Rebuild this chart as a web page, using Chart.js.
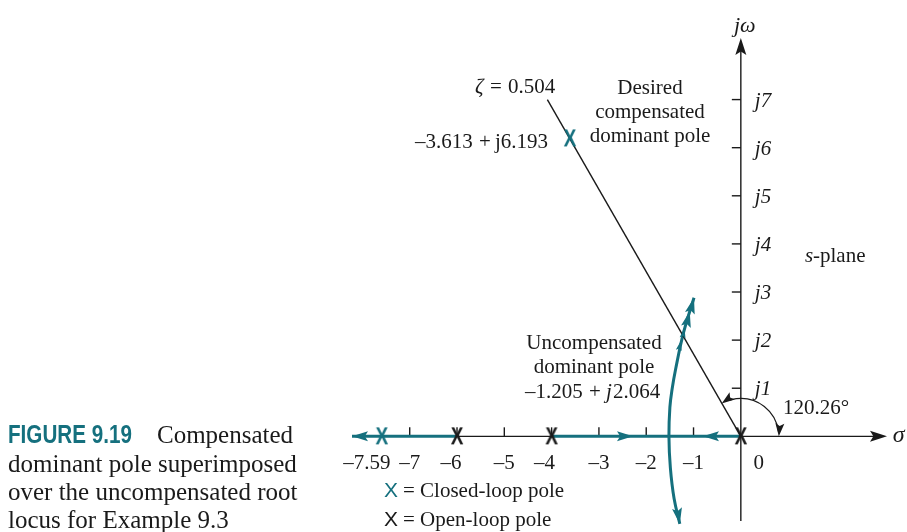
<!DOCTYPE html>
<html>
<head>
<meta charset="utf-8">
<script src="https://cdn.jsdelivr.net/npm/chart.js@4.4.1/dist/chart.umd.min.js"></script>
<style>
  html, body { margin: 0; padding: 0; background: #fff; }
</style>
</head>
<body>
<canvas id="locus" width="907" height="532"></canvas>
<script>
var TEAL = '#15707e';
var INK = '#1a1a1a';
var SERIF = '"Liberation Serif", "Times New Roman", serif';
var SANS = '"Liberation Sans", Arial, sans-serif';

// root locus on the real axis, [from, to]
var realSegFrom = [-8.22, -4];
var realSegTo = [-6, 0];
// complex branch leaving the breakaway point
var branchRe = [-1.29, -1.41, -1.49, -1.52, -1.50, -1.45, -1.38, -1.21, -0.99];
var branchIm = [-1.82, -1.30, -0.65, 0, 0.60, 1.00, 1.39, 2.16, 2.88];
// zeta = 0.504 line
var zetaRe = [0, -4.09];
var zetaIm = [0, 7.0];
// poles
var openLoopRe = [0, -4, -6];
var closedLoopRe = [-7.59, -3.613];
var closedLoopIm = [0, 6.193];
// arrows on the real-axis locus: tip and direction
var axisArrowAt = [-8.22, -2.28, -0.80];
var axisArrowDir = [-1, 1, -1];
// arrows on the branch: tip and a point behind it
var branchArrowTip = [[-0.99, 2.88], [-1.08, 2.60], [-1.19, 2.24], [-1.27, 1.98], [-1.29, -1.82]];
var branchArrowTail = [[-1.05, 2.66], [-1.13, 2.40], [-1.22, 2.10], [-1.30, 1.84], [-1.33, -1.60]];
var arrowScale = [1, 1, 0.6, 0.6, 1];
// ticks
var xTicks = [-7, -6, -5, -4, -3, -2, -1];
var xLabelVals = [-7.59, -7, -6, -5, -4, -3, -2, -1, 0];
var xLabelText = ['–7.59', '–7', '–6', '–5', '–4', '–3', '–2', '–1', '0'];
var yTicks = [1, 2, 3, 4, 5, 6, 7];
var angleDeg = 120.26;

function xGlyph(color) {
  var c = document.createElement('canvas');
  c.width = 20; c.height = 22;
  var g = c.getContext('2d');
  g.fillStyle = color;
  g.font = 'bold 22px ' + SANS;
  g.textAlign = 'center';
  g.textBaseline = 'middle';
  g.translate(10, 12);
  g.scale(0.86, 1.1);
  g.fillText('X', 0, 0);
  return c;
}

function line(ctx, x1, y1, x2, y2) {
  ctx.beginPath();
  ctx.moveTo(x1, y1);
  ctx.lineTo(x2, y2);
  ctx.stroke();
}

function arrowHead(ctx, x, y, ang, len, wid, color) {
  ctx.save();
  ctx.translate(x, y);
  ctx.rotate(ang);
  ctx.fillStyle = color;
  ctx.beginPath();
  ctx.moveTo(0, 0);
  ctx.lineTo(-len, -wid / 2);
  ctx.lineTo(-len * 0.8, 0);
  ctx.lineTo(-len, wid / 2);
  ctx.closePath();
  ctx.fill();
  ctx.restore();
}

function text(ctx, s, x, y, font, align, color) {
  ctx.font = font;
  ctx.textAlign = align || 'left';
  ctx.textBaseline = 'alphabetic';
  ctx.fillStyle = color || INK;
  ctx.fillText(s, x, y);
}

function pts(re, im) {
  return re.map(function (v, i) { return { x: v, y: im[i] }; });
}

var sPlanePlugin = {
  id: 'sPlane',
  beforeDatasetsDraw: function (chart) {
    var ctx = chart.ctx, sx = chart.scales.x, sy = chart.scales.y;
    var ox = sx.getPixelForValue(0), oy = sy.getPixelForValue(0);
    ctx.save();
    ctx.strokeStyle = INK;
    ctx.lineWidth = 1.4;
    line(ctx, sx.left, oy, sx.right - 10, oy);
    arrowHead(ctx, sx.right, oy, 0, 17, 11, INK);
    line(ctx, ox, sy.bottom, ox, sy.top + 10);
    arrowHead(ctx, ox, sy.top, -Math.PI / 2, 17, 11, INK);
    xTicks.forEach(function (v) {
      var px = sx.getPixelForValue(v);
      line(ctx, px, oy, px, oy - 9);
    });
    yTicks.forEach(function (v) {
      var py = sy.getPixelForValue(v);
      line(ctx, ox - 9, py, ox, py);
    });
    // angle of the zeta line
    var r = 38, a = -angleDeg * Math.PI / 180;
    ctx.lineWidth = 1.2;
    ctx.beginPath();
    ctx.arc(ox, oy, r, -0.12, a + 0.2, true);
    ctx.stroke();
    arrowHead(ctx, ox + r, oy, Math.PI / 2 + 0.08, 13, 9, INK);
    arrowHead(ctx, ox + r * Math.cos(a), oy + r * Math.sin(a), Math.atan2(0.504, -0.864) - 0.1, 13, 9, INK);
    ctx.restore();
  },
  afterDatasetsDraw: function (chart) {
    var ctx = chart.ctx, sx = chart.scales.x, sy = chart.scales.y;
    var ox = sx.getPixelForValue(0), oy = sy.getPixelForValue(0);
    ctx.save();
    axisArrowAt.forEach(function (v, i) {
      arrowHead(ctx, sx.getPixelForValue(v), oy, axisArrowDir[i] > 0 ? 0 : Math.PI, 16, 10, TEAL);
    });
    branchArrowTip.forEach(function (p, i) {
      var tx = sx.getPixelForValue(p[0]), ty = sy.getPixelForValue(p[1]);
      var bx = sx.getPixelForValue(branchArrowTail[i][0]), by = sy.getPixelForValue(branchArrowTail[i][1]);
      var k = arrowScale[i];
      arrowHead(ctx, tx, ty, Math.atan2(ty - by, tx - bx), 16 * k, 10 * k, TEAL);
    });

    var f21 = '21px ' + SERIF, i21 = 'italic 21px ' + SERIF;
    // axis labels
    xLabelVals.forEach(function (v, i) {
      var shift = { '-7.59': -15, '-6': -6, '-4': -7, '0': 18 }[String(v)] || 0;
      text(ctx, xLabelText[i], sx.getPixelForValue(v) + shift, oy + 33, f21, 'center');
    });
    yTicks.forEach(function (v) {
      text(ctx, 'j' + v, ox + 14, sy.getPixelForValue(v) + 7, i21);
    });
    text(ctx, 'jω', ox + 4, 32, 'italic 22px ' + SERIF, 'center');
    text(ctx, 'σ', ox + 152, oy + 6, 'italic 24px ' + SERIF);
    text(ctx, 's', 805, 262, i21);
    text(ctx, '-plane', 813, 262, f21);
    text(ctx, '120.26°', 783, 414, f21);

    // annotations
    text(ctx, 'ζ', 475, 93, i21);
    text(ctx, '=', 490, 93, f21);
    text(ctx, '0.504', 508, 93, f21);
    text(ctx, 'Desired', 650, 94, f21, 'center');
    text(ctx, 'compensated', 650, 118, f21, 'center');
    text(ctx, 'dominant pole', 650, 142, f21, 'center');
    text(ctx, '–3.613', 415, 148, f21);
    text(ctx, '+', 479, 148, f21);
    text(ctx, 'j6.193', 495, 148, f21);
    text(ctx, 'Uncompensated', 594, 349, f21, 'center');
    text(ctx, 'dominant pole', 594, 373, f21, 'center');
    text(ctx, '–1.205', 525, 398, f21);
    text(ctx, '+', 589, 398, f21);
    text(ctx, 'j', 606, 398, i21);
    text(ctx, '2.064', 613, 398, f21);

    // legend
    text(ctx, 'X', 384, 497, '21px ' + SANS, 'left', TEAL);
    text(ctx, '= Closed-loop pole', 403, 497, f21);
    text(ctx, 'X', 384, 526, '21px ' + SANS, 'left', INK);
    text(ctx, '= Open-loop pole', 403, 526, f21);

    // caption
    ctx.font = 'bold 25px ' + SANS;
    var w = ctx.measureText('FIGURE 9.19').width;
    ctx.save();
    ctx.translate(8, 443);
    ctx.scale(124 / w, 1);
    text(ctx, 'FIGURE 9.19', 0, 0, 'bold 25px ' + SANS, 'left', TEAL);
    ctx.restore();
    var f25 = '25px ' + SERIF;
    text(ctx, 'Compensated', 157, 443, f25);
    text(ctx, 'dominant pole superimposed', 8, 472, f25);
    text(ctx, 'over the uncompensated root', 8, 500, f25);
    text(ctx, 'locus for Example 9.3', 8, 528, f25);
    ctx.restore();
  }
};

var tealX = xGlyph(TEAL);
var blackX = xGlyph(INK);

var datasets = [
  {
    data: pts(closedLoopRe, closedLoopIm),
    pointStyle: tealX, pointRadius: 10, showLine: false, clip: false
  },
  {
    data: pts(openLoopRe, openLoopRe.map(function () { return 0; })),
    pointStyle: blackX, pointRadius: 10, showLine: false, clip: false
  },
  {
    data: pts(zetaRe, zetaIm),
    showLine: true, borderColor: INK, borderWidth: 1.4, pointRadius: 0, clip: false
  },
  {
    data: pts(branchRe, branchIm),
    showLine: true, tension: 0.4, borderColor: TEAL, borderWidth: 3, pointRadius: 0, clip: false
  }
];
realSegFrom.forEach(function (v, i) {
  datasets.push({
    data: [{ x: v, y: 0 }, { x: realSegTo[i], y: 0 }],
    showLine: true, borderColor: TEAL, borderWidth: 3, pointRadius: 0, clip: false
  });
});

new Chart(document.getElementById('locus').getContext('2d'), {
  type: 'scatter',
  data: { datasets: datasets },
  options: {
    responsive: false,
    animation: false,
    devicePixelRatio: 1,
    layout: { padding: { left: 352, right: 20, top: 38, bottom: 10 } },
    scales: {
      x: { type: 'linear', min: -8.22, max: 3.09, display: false },
      y: { type: 'linear', min: -1.76, max: 8.28, display: false }
    },
    plugins: { legend: { display: false }, tooltip: { enabled: false } }
  },
  plugins: [sPlanePlugin]
});
</script>
</body>
</html>
